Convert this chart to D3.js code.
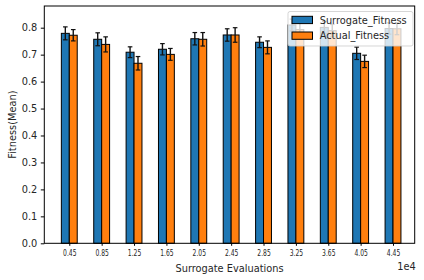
<!DOCTYPE html>
<html>
<head>
<meta charset="utf-8">
<script src="https://cdn.jsdelivr.net/npm/d3@7"></script>
<style>
  body { margin: 0; background: #fff; }
  text { font-family: "DejaVu Sans", sans-serif; fill: #262626; }
</style>
</head>
<body>
<div id="vis"></div>
<script>
var width = 424,
	height = 280;

// data
var categories = ["0.45", "0.85", "1.25", "1.65", "2.05", "2.45", "2.85", "3.25", "3.65", "4.05", "4.45"];
var surrogateMean = [0.779, 0.757, 0.709, 0.720, 0.759, 0.773, 0.746, 0.810, 0.801, 0.705, 0.797];
var surrogateErr  = [0.024, 0.024, 0.020, 0.021, 0.023, 0.023, 0.020, 0.022, 0.022, 0.023, 0.021];
var actualMean    = [0.772, 0.738, 0.668, 0.701, 0.757, 0.773, 0.727, 0.793, 0.789, 0.675, 0.796];
var actualErr     = [0.021, 0.028, 0.025, 0.022, 0.025, 0.027, 0.024, 0.025, 0.023, 0.023, 0.022];
var yTicks = [0, 0.1, 0.2, 0.3, 0.4, 0.5, 0.6, 0.7, 0.8];
var seriesNames = ["Surrogate_Fitness", "Actual_Fitness"];
var seriesColors = ["#1f77b4", "#ff7f0e"];

var margin = {left: 44.3, right: 414.7, top: 6, bottom: 243.3};
var barW = 0.245;

var x = d3.scaleLinear()
		.domain([-0.772, 10.67])
		.range([margin.left, margin.right]),
	y = d3.scaleLinear()
		.domain([0, 0.8805])
		.range([margin.bottom, margin.top]);

var svg = d3.select('#vis')
		.append('svg')
		.attr('width', width)
		.attr('height', height);

var series = [
	{name: seriesNames[0], mean: surrogateMean, err: surrogateErr, off: -barW, color: seriesColors[0]},
	{name: seriesNames[1], mean: actualMean, err: actualErr, off: 0, color: seriesColors[1]}
];

// bars
series.forEach(function(s) {
	var g = svg.append('g');
	g.selectAll('rect')
		.data(s.mean)
		.enter()
		.append('rect')
		.attr('x', function(d, i) { return x(i + s.off); })
		.attr('width', x(barW) - x(0))
		.attr('y', function(d) { return y(d); })
		.attr('height', function(d) { return y(0) - y(d); })
		.style('fill', s.color)
		.style('stroke', '#000')
		.style('stroke-width', 1);

	// error bars
	var eb = g.selectAll('g.err')
		.data(s.mean)
		.enter()
		.append('g')
		.attr('class', 'err');
	var cx = function(d, i) { return x(i + s.off + barW / 2); };
	eb.append('line')
		.attr('x1', cx).attr('x2', cx)
		.attr('y1', function(d, i) { return y(d - s.err[i]); })
		.attr('y2', function(d, i) { return y(d + s.err[i]); })
		.style('stroke', '#111').style('stroke-width', 1.4);
	[-1, 1].forEach(function(sign) {
		eb.append('line')
			.attr('x1', function(d, i) { return cx(d, i) - 2.3; })
			.attr('x2', function(d, i) { return cx(d, i) + 2.3; })
			.attr('y1', function(d, i) { return y(d + sign * s.err[i]); })
			.attr('y2', function(d, i) { return y(d + sign * s.err[i]); })
			.style('stroke', '#111').style('stroke-width', 1.2);
	});
});

// axes
var yAxis = svg.append('g')
	.attr('transform', 'translate(' + margin.left + ',0)')
	.call(d3.axisLeft(y).tickValues(yTicks).tickFormat(d3.format('.1f')).tickSize(3.5).tickPadding(3.5));
yAxis.select('.domain').remove();
yAxis.selectAll('text').style('font-size', '9.8px').style('fill', '#262626');

var xAxis = svg.append('g')
	.attr('transform', 'translate(0,' + margin.bottom + ')')
	.call(d3.axisBottom(x).tickValues(d3.range(categories.length)).tickFormat(function(d) { return categories[d]; }).tickSize(2.5).tickPadding(3.5));
xAxis.select('.domain').remove();
xAxis.selectAll('text')
	.style('font-size', '9.2px')
	.attr('textLength', 13.4)
	.attr('lengthAdjust', 'spacingAndGlyphs')
	.attr('x', -6.7)
	.style('text-anchor', 'start');

svg.append('rect')
	.attr('x', margin.left).attr('y', margin.top)
	.attr('width', margin.right - margin.left)
	.attr('height', margin.bottom - margin.top)
	.style('fill', 'none').style('stroke', '#000').style('stroke-width', 1);

// axis labels
svg.append('text')
	.attr('x', (margin.left + margin.right) / 2)
	.attr('y', 271.5)
	.attr('text-anchor', 'middle')
	.style('font-size', '9.8px')
	.text('Surrogate Evaluations');

svg.append('text')
	.attr('x', margin.right + 1)
	.attr('y', 270.3)
	.attr('text-anchor', 'end')
	.style('font-size', '9.8px')
	.text('1e4');

svg.append('text')
	.attr('transform', 'translate(15.5,' + ((margin.top + margin.bottom) / 2) + ') rotate(-90)')
	.attr('text-anchor', 'middle')
	.style('font-size', '9.8px')
	.text('Fitness(Mean)');

// legend
var legend = svg.append('g');
legend.append('rect')
	.attr('x', 288).attr('y', 11.5)
	.attr('width', 125).attr('height', 34.5)
	.attr('rx', 2)
	.style('fill', 'rgba(255,255,255,0.8)')
	.style('stroke', 'rgba(204,204,204,0.8)')
	.style('stroke-width', 1);

var items = legend.selectAll('g.item')
	.data(series)
	.enter()
	.append('g')
	.attr('class', 'item')
	.attr('transform', function(d, i) { return 'translate(0,' + (i * 15.7) + ')'; });
items.append('rect')
	.attr('x', 292).attr('y', 16.3)
	.attr('width', 20.5).attr('height', 7.3)
	.style('fill', function(d) { return d.color; })
	.style('stroke', '#000').style('stroke-width', 1);
items.append('text')
	.attr('x', 319.7).attr('y', 23.5)
	.style('font-size', '9.8px')
	.text(function(d) { return d.name; });
</script>
</body>
</html>
